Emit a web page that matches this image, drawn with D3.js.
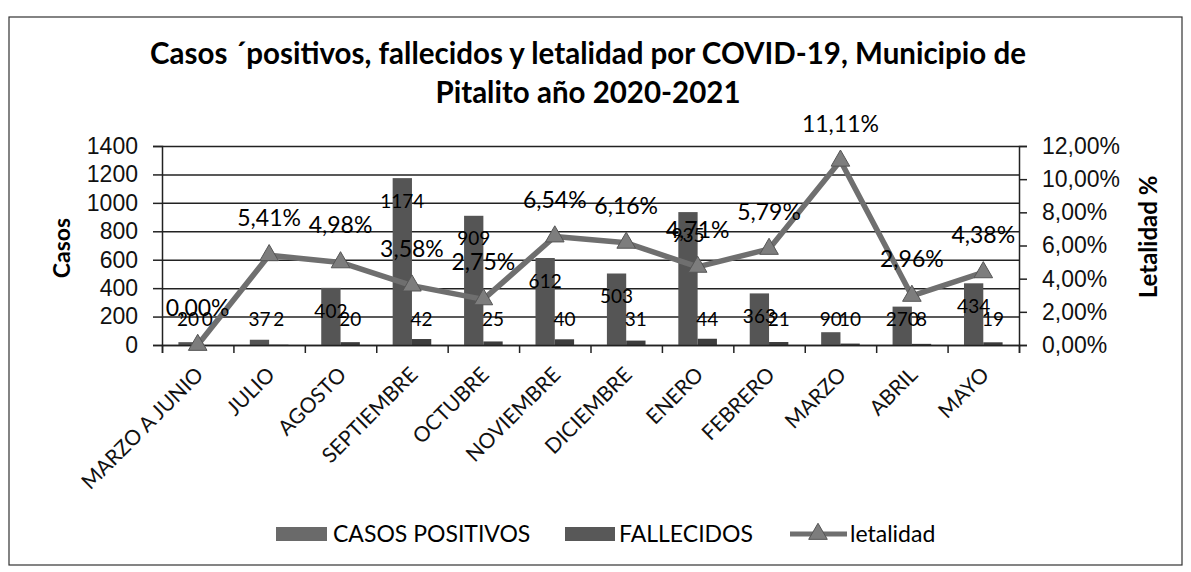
<!DOCTYPE html>
<html>
<head>
<meta charset="utf-8">
<script src="https://cdn.jsdelivr.net/npm/d3@7"></script>
<style>
  body { margin: 0; background: #fff; }
  svg { font-family: Lato, "Open Sans", sans-serif; }
</style>
</head>
<body>
<svg id="chart" width="1191" height="572"></svg>
<script>
const categories = ["MARZO A JUNIO", "JULIO", "AGOSTO", "SEPTIEMBRE", "OCTUBRE", "NOVIEMBRE",
    "DICIEMBRE", "ENERO", "FEBRERO", "MARZO", "ABRIL", "MAYO"];
const casosPositivos = [20, 37, 402, 1174, 909, 612, 503, 935, 363, 90, 270, 434];
const fallecidos = [0, 2, 20, 42, 25, 40, 31, 44, 21, 10, 8, 19];
const letalidad = [0, 5.41, 4.98, 3.58, 2.75, 6.54, 6.16, 4.71, 5.79, 11.11, 2.96, 4.38];
const casosTicks = [0, 200, 400, 600, 800, 1000, 1200, 1400];
const letalidadTicks = [0, 2, 4, 6, 8, 10, 12];

const svg = d3.select("#chart");
const margin = { top: 146, right: 172, bottom: 227, left: 162 };
const width = 1191 - margin.left - margin.right;
const height = 572 - margin.top - margin.bottom;
const pct = v => v.toFixed(2).replace(".", ",") + "%";

// outer frame
svg.append("rect")
    .attr("x", 9).attr("y", 17)
    .attr("width", 1173).attr("height", 548)
    .attr("fill", "none").attr("stroke", "#333").attr("stroke-width", 1.2);

// title
svg.append("text")
    .attr("x", 588).attr("y", 64)
    .attr("text-anchor", "middle")
    .style("font-size", "29.5px").style("font-weight", "bold")
    .text("Casos \u00b4positivos, fallecidos y letalidad por COVID-19, Municipio de");
svg.append("text")
    .attr("x", 588).attr("y", 103)
    .attr("text-anchor", "middle")
    .style("font-size", "29.5px").style("font-weight", "bold")
    .text("Pitalito año 2020-2021");

const x = d3.scaleBand()
    .domain(categories)
    .range([0, width]);

const xSub = d3.scaleBand()
    .domain(["casos", "fallecidos"])
    .range([0, x.bandwidth()])
    .paddingOuter(0.85);

const xEdge = d3.scaleLinear()
    .domain([0, categories.length])
    .range([0, width]);

const yL = d3.scaleLinear()
    .domain([0, 1400])
    .range([height, 0]);

const yR = d3.scaleLinear()
    .domain([0, 12])
    .range([height, 0]);

const g = svg.append("g")
    .attr("transform", `translate(${margin.left},${margin.top})`);

// gridlines
g.append("g")
    .call(d3.axisLeft(yL).tickValues(casosTicks).tickSize(-width).tickFormat(""))
    .call(s => s.select(".domain").remove())
    .selectAll("line")
    .attr("stroke", "#3a3a3a").attr("stroke-width", 1.4);

// bars
g.selectAll(".casos")
    .data(casosPositivos)
    .join("rect")
    .attr("class", "casos")
    .attr("x", (d, i) => x(categories[i]) + xSub("casos"))
    .attr("y", d => yL(d))
    .attr("width", xSub.bandwidth())
    .attr("height", d => height - yL(d))
    .attr("fill", "#555");

g.selectAll(".fallecidos")
    .data(fallecidos)
    .join("rect")
    .attr("class", "fallecidos")
    .attr("x", (d, i) => x(categories[i]) + xSub("fallecidos"))
    .attr("y", d => yL(d))
    .attr("width", xSub.bandwidth())
    .attr("height", d => height - yL(d))
    .attr("fill", "#3d3d3d");

// axes
const left = g.append("g")
    .call(d3.axisLeft(yL).tickValues(casosTicks).tickSize(9).tickPadding(15).tickFormat(d3.format("d")));
left.selectAll("text").style("font-size", "23px").attr("fill", "#111");

const right = g.append("g")
    .attr("transform", `translate(${width},0)`)
    .call(d3.axisRight(yR).tickValues(letalidadTicks).tickSize(8).tickPadding(15).tickFormat(pct));
right.selectAll("text").style("font-size", "23px").attr("fill", "#111");

const bottom = g.append("g")
    .attr("transform", `translate(0,${height})`)
    .call(d3.axisBottom(xEdge).ticks(categories.length).tickSize(8).tickFormat(""));

g.selectAll(".domain, .tick line").attr("stroke", "#222").attr("stroke-width", 1.5);

g.append("g")
    .selectAll("text")
    .data(categories)
    .join("text")
    .attr("transform", d => `translate(${x(d) + x.bandwidth() / 2 + 7},${height + 31}) rotate(-45)`)
    .attr("text-anchor", "end")
    .style("font-size", "21px")
    .attr("fill", "#111")
    .text(d => d);

// letalidad line
const cx = i => x(categories[i]) + x.bandwidth() / 2;
const line = d3.line()
    .x((d, i) => cx(i))
    .y(d => yR(d));

g.append("path")
    .datum(letalidad)
    .attr("d", line)
    .attr("fill", "none")
    .attr("stroke", "#6f6f6f")
    .attr("stroke-width", 5.5)
    .attr("stroke-linejoin", "round");

const tri = d3.symbol().type(d3.symbolTriangle).size(150);
g.selectAll(".marker")
    .data(letalidad)
    .join("path")
    .attr("class", "marker")
    .attr("transform", (d, i) => `translate(${cx(i)},${yR(d)})`)
    .attr("d", tri)
    .attr("fill", "#7d7d7d")
    .attr("stroke", "#555").attr("stroke-width", 1);

// data labels
g.selectAll(".lblC")
    .data(casosPositivos)
    .join("text")
    .attr("x", (d, i) => x(categories[i]) + xSub("casos") + xSub.bandwidth() / 2)
    .attr("y", d => Math.min(yL(d) + 23, yL(180)))
    .attr("dy", "0.35em")
    .attr("text-anchor", "middle")
    .style("font-size", "19px")
    .text(d => d);

g.selectAll(".lblF")
    .data(fallecidos)
    .join("text")
    .attr("x", (d, i) => x(categories[i]) + xSub("fallecidos") + xSub.bandwidth() / 2)
    .attr("y", d => Math.min(yL(d) + 23, yL(180)))
    .attr("dy", "0.35em")
    .attr("text-anchor", "middle")
    .style("font-size", "19px")
    .text(d => d);

g.selectAll(".lblL")
    .data(letalidad)
    .join("text")
    .attr("x", (d, i) => cx(i))
    .attr("y", d => yR(d) - 37)
    .attr("dy", "0.35em")
    .attr("text-anchor", "middle")
    .style("font-size", "23px")
    .text(d => pct(d));

// axis titles
svg.append("text")
    .attr("transform", "translate(70,248) rotate(-90)")
    .attr("text-anchor", "middle")
    .style("font-size", "23px").style("font-weight", "bold")
    .text("Casos");

svg.append("text")
    .attr("transform", "translate(1157,237) rotate(-90)")
    .attr("text-anchor", "middle")
    .style("font-size", "24px").style("font-weight", "bold")
    .text("Letalidad %");

// legend
const legend = svg.append("g").attr("transform", "translate(0,534)");
legend.append("rect").attr("x", 276).attr("y", -7).attr("width", 51).attr("height", 14).attr("fill", "#6a6a6a");
legend.append("text").attr("x", 333).attr("dy", "0.35em").style("font-size", "23px").text("CASOS POSITIVOS");
legend.append("rect").attr("x", 565).attr("y", -7).attr("width", 50).attr("height", 14).attr("fill", "#585858");
legend.append("text").attr("x", 619).attr("dy", "0.35em").style("font-size", "23px").text("FALLECIDOS");
legend.append("line").attr("x1", 790).attr("x2", 847).attr("stroke", "#6f6f6f").attr("stroke-width", 5);
legend.append("path").attr("transform", "translate(818,0)").attr("d", tri).attr("fill", "#7d7d7d").attr("stroke", "#555");
legend.append("text").attr("x", 850).attr("dy", "0.35em").style("font-size", "23px").text("letalidad");
</script>
</body>
</html>
